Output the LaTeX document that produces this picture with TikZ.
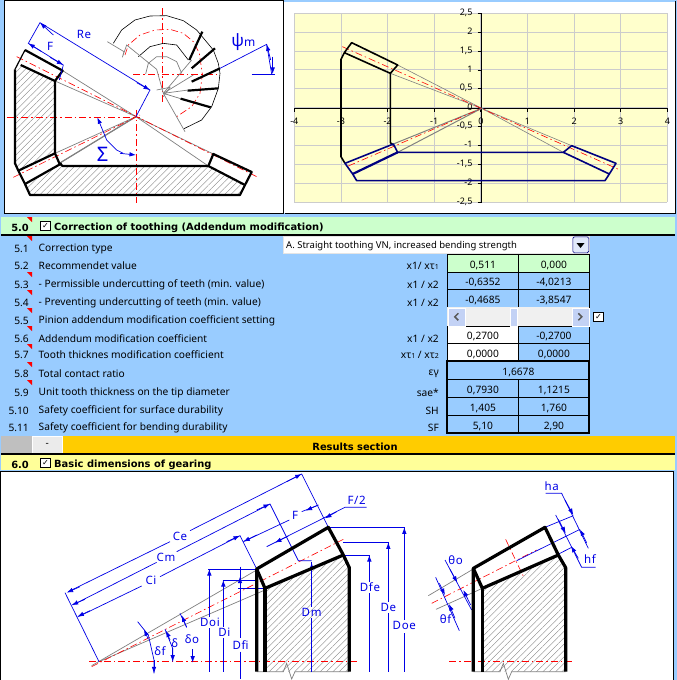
\documentclass[tikz,border=0pt]{standalone}
\usepackage{fontspec}
\setmainfont{Noto Sans}
\newfontfamily\symfont{DejaVu Sans}
\usetikzlibrary{arrows.meta,patterns.meta}
\definecolor{panelblue}{HTML}{99CCFF}
\definecolor{headgreen}{HTML}{CCFFCC}
\definecolor{headyellow}{HTML}{FFFF99}
\definecolor{chartyellow}{HTML}{FFFFCC}
\definecolor{barorange}{HTML}{FFCC00}
\definecolor{gridgray}{HTML}{CCCCCC}
\definecolor{dimblue}{HTML}{0000E6}
\definecolor{navyline}{HTML}{000080}
\definecolor{btnblue}{HTML}{C3D2F5}
\newcommand{\lowi}[1]{{\fontsize{7}{7}\selectfont #1}}
\tikzset{
  thickline/.style={black,line width=2.2pt,line join=round},
  heavyline/.style={black,line width=3.2pt,line join=round},
  thinline/.style={black,line width=.6pt},
  grayline/.style={gray,line width=.7pt},
  centerline/.style={red,line width=.6pt,dash pattern=on 7pt off 3pt on 1.5pt off 3pt},
  dimline/.style={dimblue,line width=.7pt},
  dimtip/.style={dimblue,line width=.7pt,-{Latex[length=6.5pt,width=4.5pt]}},
  hatched/.style={pattern={Lines[angle=45,distance=4.5pt,line width=.35pt]},pattern color=gray},
  dimlabel/.style={dimblue,inner sep=0pt,font=\fontsize{11.5}{11.5}\selectfont\addfontfeature{LetterSpace=6}},
  numlabel/.style={inner sep=0pt,anchor=east,yshift=-1.5pt,font=\fontsize{10.2}{10.2}\selectfont},
  rowlabel/.style={inner sep=0pt,anchor=west,yshift=-1.5pt,font=\fontsize{10.2}{10.2}\selectfont},
  symlabel/.style={inner sep=0pt,anchor=east,yshift=-1.5pt,font=\fontsize{10.2}{10.2}\selectfont},
  headlabel/.style={inner sep=0pt,anchor=west,font=\symfont\fontsize{9.9}{9.9}\selectfont\bfseries},
  cellbox/.style={draw=black,line width=.8pt,anchor=north west,inner sep=0pt,text height=9.5pt,text depth=0pt,font=\fontsize{10.2}{10.2}\selectfont},
  ticklabel/.style={inner sep=0pt,font=\fontsize{9}{9}\selectfont},
  checkbox/.style={draw=black,fill=white,line width=.8pt,minimum size=9.5pt,inner sep=0pt,font=\symfont\fontsize{8}{8}\selectfont\bfseries},
  scrollbtn/.style={fill=btnblue,draw=white,anchor=north west,minimum width=17pt,minimum height=18pt,inner sep=0pt,line width=.6pt},
  chevron/.style={draw=black!65,line width=1.5pt},
  redmark/.style={fill=red,draw=none}
}
\begin{document}
\begin{tikzpicture}[x=1pt,y=-1pt]
  \useasboundingbox (0,0) rectangle (677,680);
  \fill[panelblue] (0,0) rectangle (677,680);

  % left sketch
  \draw[black,line width=.8pt,fill=white] (4.5,.5) rectangle (283,213);
  \begin{scope}[scale=1/3]
    \fill[hatched] (62,195) -- (165,243) -- (165,460) -- (55,512) -- (45,490) -- (45,208) -- cycle;
    \fill[hatched] (90,585) -- (75,552) -- (185,490) -- (188,498) -- (625,498) -- (735,555) -- (720,585) -- cycle;
    \foreach \px/\py in {188/212,165/243,165/460,178/490,640/462,625/498}
      \draw[grayline] (\px,\py) -- (408,350);
    \draw[gray,line width=1.2pt] (178,490) -- (408,350);
    \draw[centerline] (50,170) -- (770,530);
    \draw[centerline] (40,532) -- (420,345);
    \draw[centerline] (20,352) -- (420,352);
    \draw[centerline] (408,330) -- (408,608);
    \draw[thickline,line width=1.2pt] (75,150) -- (45,208);
    \draw[thickline] (45,208) -- (45,490) -- (55,512) -- (75,552) -- (90,585) -- (720,585) -- (735,555) -- (755,516) -- (640,462) -- (625,498) -- (188,498) -- (178,490) -- (165,460) -- (165,243) -- (188,212) -- (75,150);
    \draw[thickline] (62,195) -- (165,243);
    \draw[thickline] (55,512) -- (165,460);
    \draw[thickline] (75,552) -- (185,490);
    \draw[thickline] (625,498) -- (735,555);
    % upper wheel
    \draw[centerline] (400,222) -- (660,222);
    \draw[centerline] (487,25) -- (487,315);
    \draw[thinline] (340,130) -- (365,90) -- (405,60) -- (450,48) -- (500,47) -- (550,62) -- (590,90) -- (615,120) -- (640,150) -- (655,190) -- (660,220) -- (655,265) -- (635,320) -- (605,360) -- (552,386);
    \draw[centerline] (375,165) -- (385,135) -- (420,105) -- (465,90) -- (510,88) -- (550,100) -- (580,125) -- (598,160) -- (607,222) -- (600,280) -- (575,320) -- (530,350);
    \draw[thinline] (415,170) -- (450,140) -- (490,130) -- (530,135) -- (565,180);
    \draw[grayline] (437,222) -- (445,190) -- (470,170) -- (500,170) -- (530,185) -- (545,220);
    \draw[grayline] (322,125) -- (372,155) -- (367,172) -- (380,135) -- (470,208) -- (490,280);
    \foreach \px/\py in {575/180,580/225,565/270,542/296,555/395}
      \draw[grayline] (490,280) -- (\px,\py);
    \draw[grayline] (470,270) -- (510,262) -- (490,290);
    \draw[thickline] (568,180) -- (607,95);
    \draw[thickline] (575,205) -- (645,145);
    \draw[thickline] (575,245) -- (660,205);
    \draw[thickline] (563,272) -- (655,265);
    \draw[thickline] (542,296) -- (632,322);
    % dimensions
    \draw[dimline] (408,350) -- (450,270) -- (120,68) -- (85,130) -- (190,195) -- (178,240);
    \draw[dimtip] (160,105) -- (120,68);
    \draw[dimtip] (410,248) -- (450,270);
    \draw[dimtip] (125,155) -- (85,130);
    \draw[dimtip] (150,172) -- (190,195);
    \draw[dimline] (660,205) -- (800,133) -- (815,222);
    \draw[dimline] (755,222) -- (825,222);
    \draw[dimtip] (812,180) -- (800,133);
    \draw[dimtip] (818,170) -- (818,222);
    \draw[dimline] (320,420) -- (350,450) -- (370,460);
    \draw[dimtip] (320,420) -- (292,352);
    \draw[dimtip] (360,460) -- (408,465);
    \node[dimlabel] (labRe) at (252,103) {Re};
    \node[dimlabel] (labF) at (150,138) {F};
    \node[dimlabel,font=\fontsize{20}{20}\selectfont] (labSigma) at (308,462) {Σ};
    \node[dimlabel,font=\fontsize{17}{17}\selectfont] (labPsi) at (730,127) {ψ{\fontsize{12}{12}\selectfont m}};
  \end{scope}

  % chart
  \fill[white] (284,2) rectangle (675,213);
  \draw[black,line width=.8pt] (285,213) -- (675,213) -- (675,1);
  \begin{scope}[shift={(285,0)},scale=1/3]
    \fill[chartyellow] (28,40) rectangle (1147,606);
    \foreach \k in {0,...,8}
      \draw[gridgray,line width=.9pt] ({28+\k*139.9},40) -- ({28+\k*139.9},606);
    \foreach \k in {0,...,10}
      \draw[gridgray,line width=.9pt] (28,{40+\k*56.6}) -- (1147,{40+\k*56.6});
    \draw[black,line width=.8pt] (28,325) -- (1147,325);
    \draw[black,line width=.8pt] (590,40) -- (590,606);
    \foreach \k in {0,...,8}
      \draw[black,line width=.8pt] ({28+\k*139.9},325) -- ({28+\k*139.9},337);
    \foreach \k in {0,...,10}
      \draw[black,line width=.8pt] (578,{40+\k*56.6}) -- (590,{40+\k*56.6});
    \foreach \lab [count=\k from 0] in {-4,-3,-2,-1,0,1,2,3,4}
      \node[ticklabel] (xtick\k) at ({28+\k*139.9},365) {\lab};
    \foreach \lab [count=\k from 0] in {{2,5},2,{1,5},1,{0,5},0,{-0,5},-1,{-1,5},-2,{-2,5}}
      \node[ticklabel,anchor=east] (ytick\k) at (563,{38+\k*56.6}) {\lab};
    \foreach \px/\py in {338/195,316/220,860/437,835/457}
      \draw[gray,line width=.6pt] (\px,\py) -- (590,325);
    \foreach \px/\py in {325/432,338/457}
      \draw[gray,line width=1pt] (\px,\py) -- (590,325);
    \draw[centerline] (172,140) -- (1005,510);
    \draw[centerline] (190,498) -- (590,325);
    \draw[black,line width=1.6pt,line join=round] (178,158) -- (316,220) -- (338,195) -- (200,128) -- (178,158) -- (168,178) -- (168,470) -- (180,490);
    \draw[black,line width=1.6pt] (316,220) -- (316,428) -- (325,435);
    \draw[navyline,line width=1.6pt,line join=round] (180,490) -- (325,432) -- (338,457) -- (835,457) -- (860,437) -- (993,490) -- (973,522) -- (960,542) -- (215,542) -- (203,522) -- cycle;
    \draw[navyline,line width=2.2pt] (203,522) -- (338,457);
    \draw[navyline,line width=1.6pt] (835,457) -- (973,522);
  \end{scope}

  % section 5
  \fill[headgreen] (1,217) rectangle (675,234);
  \draw[black,line width=1.6pt] (1,235) -- (675,235);
  \node[headlabel,anchor=east] (num50) at (29,228) {5.0};
  \node[checkbox] (chk50) at (45.5,226) {✓};
  \node[headlabel] (head50) at (54,228) {Correction of toothing (Addendum modification)};
  \foreach \nm/\yc/\num/\txt in {51/247/5.1/Correction type,52/264/5.2/Recommendet value,53/283/5.3/- Permissible undercutting of teeth (min. value),54/301/5.4/- Preventing undercutting of teeth (min. value),55/319/5.5/Pinion addendum modification coefficient setting,56/337/5.6/Addendum modification coefficient,57/353/5.7/Tooth thicknes modification coefficient,58/372/5.8/Total contact ratio,59/391/5.9/Unit tooth thickness on the tip diameter,510/409/5.10/Safety coefficient for surface durability,511/426/5.11/Safety coefficient for bending durability}{
    \node[numlabel] (num\nm) at (29,\yc) {\num};
    \node[rowlabel] (row\nm) at (38.5,\yc) {\txt};
  }
  \foreach \yc in {217,236,272,290,308,326,344,362,380,454}
    \fill[redmark] (27,\yc) -- (32,\yc) -- (32,\yc+5) -- cycle;
  \foreach \nm/\yc/\sym in {52/264/{x1/ xτ\lowi{1}},53/283/{x1 / x2},54/301/{x1 / x2},56/337/{x1 / x2},57/353/{xτ\lowi{1} / xτ\lowi{2}},58/372/εγ,59/391/sae*,510/409/SH,511/426/SF}
    \node[symlabel] (sym\nm) at (439,\yc) {\sym};

  % combo box
  \node[draw=white!80!gray,fill=white,anchor=north west,minimum width=306pt,minimum height=17pt,inner sep=0pt,line width=.6pt] (combo) at (283,236) {};
  \node[inner sep=0pt,anchor=west,font=\fontsize{9.5}{9.5}\selectfont] (comboText) at (286,246) {A. Straight toothing VN, increased bending strength};
  \node[draw=navyline,fill=btnblue!50!white,rounded corners=1.5pt,anchor=north west,minimum width=16pt,minimum height=16pt,inner sep=0pt,line width=.7pt] (comboBtn) at (572.5,236.5) {};
  \fill[black] (576.5,243) -- (584.5,243) -- (580.5,248) -- cycle;

  % table
  \foreach \nm/\yt/\hgt/\fa/\fb/\va/\vb in {52/254/18/headgreen/headgreen/{0,511}/{0,000},53/272/17/panelblue/panelblue/{-0,6352}/{-4,0213},54/289/18/panelblue/panelblue/{-0,4685}/{-3,8547},56/326/17/white/panelblue/{0,2700}/{-0,2700},57/343/18/white/panelblue/{0,0000}/{0,0000},59/379/18/panelblue/panelblue/{0,7930}/{1,1215},510/397/18/panelblue/panelblue/{1,405}/{1,760},511/415/18/panelblue/panelblue/{5,10}/{2,90}}{
    \node[cellbox,fill=\fa,minimum width=71pt,minimum height=\hgt pt] (cella\nm) at (447,\yt) {\va};
    \node[cellbox,fill=\fb,minimum width=71pt,minimum height=\hgt pt] (cellb\nm) at (518,\yt) {\vb};
  }
  \node[cellbox,fill=panelblue,minimum width=142pt,minimum height=18pt] (cell58) at (447,361) {1,6678};
  \draw[black,line width=1.4pt] (447,361) rectangle (589,433);

  % scroll bar
  \fill[black!6] (447,307) rectangle (589,326);
  \draw[black,line width=.8pt] (447,326) -- (589,326);
  \node[scrollbtn] (scrollL) at (447.5,307.5) {};
  \node[scrollbtn] (scrollR) at (571.5,307.5) {};
  \node[scrollbtn,minimum width=7pt] (scrollThumb) at (510,307.5) {};
  \draw[chevron] (scrollL.center) ++(2,-3.5) -- ++(-3.5,3.5) -- ++(3.5,3.5);
  \draw[chevron] (scrollR.center) ++(-2,-3.5) -- ++(3.5,3.5) -- ++(-3.5,3.5);
  \node[checkbox] (chk55) at (598.5,317) {✓};

  % results bar
  \fill[barorange] (62,436) rectangle (675,453);
  \fill[black!25] (1,436) rectangle (32,453);
  \node[draw=white,fill=black!8,anchor=north west,minimum width=30pt,minimum height=17pt,inner sep=0pt,line width=.6pt,font=\fontsize{10}{10}\selectfont] (btnMinus) at (32,436) {-};
  \node[headlabel,anchor=center] (headRes) at (355,447) {Results section};
  \draw[black,line width=1.6pt] (1,454) -- (675,454);

  % section 6
  \fill[headyellow] (1,455) rectangle (675,470);
  \node[headlabel,anchor=east] (num60) at (29,465) {6.0};
  \node[checkbox] (chk60) at (45.5,463) {✓};
  \node[headlabel] (head60) at (54,465) {Basic dimensions of gearing};
  \draw[black,line width=.8pt,fill=white] (.5,680.5) -- (.5,471) -- (673,471) -- (673,680.5);

  % bottom left sketch
  \begin{scope}[shift={(0,470)},scale=1/3]
    \fill[hatched] (795,355) -- (1030,255) -- (1048,293) -- (1048,605) -- (795,605) -- cycle;
    \draw[grayline] (770,605) -- (850,605) -- (860,580) -- (875,627) -- (885,605) -- (1048,605);
    \draw[grayline] (275,587) -- (770,300);
    \draw[grayline] (297,575) -- (795,360);
    \draw[centerline] (275,590) -- (1030,208);
    \draw[centerline] (268,575) -- (1075,575);
    % length dimensions
    \draw[dimline] (205,365) -- (510,215);
    \draw[dimline] (570,182) -- (905,12) -- (985,172);
    \draw[dimline] (195,368) -- (297,575);
    \draw[dimline] (218,405) -- (470,277);
    \draw[dimline] (530,245) -- (810,102) -- (895,272) -- (935,272);
    \draw[dimline] (235,440) -- (425,348);
    \draw[dimline] (480,320) -- (720,197) -- (770,297);
    \draw[dimline] (730,215) -- (868,150);
    \draw[dimline] (905,125) -- (955,105);
    \draw[dimline] (800,230) -- (1035,112) -- (1100,112);
    \draw[dimtip] (240,350) -- (200,368);
    \draw[dimtip] (860,35) -- (905,12);
    \draw[dimtip] (255,388) -- (215,405);
    \draw[dimtip] (770,120) -- (810,102);
    \draw[dimtip] (270,422) -- (232,440);
    \draw[dimtip] (680,215) -- (720,197);
    \draw[dimtip] (770,195) -- (730,215);
    \draw[dimtip] (955,105) -- (917,122);
    \draw[dimtip] (865,198) -- (825,218);
    \draw[dimtip] (1010,125) -- (975,145);
    % diameters
    \draw[dimline] (985,172) -- (1213,172) -- (1213,450);
    \draw[dimline] (1213,490) -- (1213,605);
    \draw[dimline] (1030,217) -- (1165,217) -- (1165,395);
    \draw[dimline] (1165,430) -- (1165,605);
    \draw[dimline] (1030,255) -- (1108,255) -- (1108,335);
    \draw[dimline] (1108,370) -- (1108,605);
    \draw[dimline] (935,275) -- (935,410);
    \draw[dimline] (935,445) -- (935,605);
    \draw[dimline] (625,297) -- (770,297);
    \draw[dimline] (628,300) -- (628,440);
    \draw[dimline] (628,475) -- (628,605);
    \draw[dimline] (668,330) -- (770,330);
    \draw[dimline] (670,335) -- (670,470);
    \draw[dimline] (670,505) -- (670,605);
    \draw[dimline] (715,355) -- (795,355);
    \draw[dimline] (720,290) -- (720,505);
    \draw[dimline] (720,545) -- (720,628);
    \foreach \px/\py in {1108/255,1165/217,935/278,628/297,670/330,720/320}
      \draw[dimtip] (\px,\py+40) -- (\px,\py);
    \draw[dimtip] (1213,212) -- (1213,172);
    % angle dimensions
    \draw[dimline] (413,455) -- (445,495) -- (462,570) -- (462,610);
    \draw[dimtip] (445,508) -- (432,478);
    \draw[dimtip] (462,570) -- (462,610);
    \draw[dimline] (495,478) -- (518,535) -- (518,575);
    \draw[dimtip] (510,510) -- (498,482);
    \draw[dimtip] (518,535) -- (518,575);
    \draw[dimline] (540,430) -- (560,472);
    \draw[dimtip] (560,472) -- (545,436);
    \draw[dimtip] (578,538) -- (578,578);
    \draw[heavyline] (770,605) -- (770,297) -- (985,172) -- (1030,255) -- (1048,293) -- (1048,605);
    \draw[heavyline] (770,297) -- (795,355) -- (1030,255);
    \draw[heavyline] (795,355) -- (795,605);
    \node[dimlabel] (labCe) at (540,199) {Ce};
    \node[dimlabel] (labCm) at (498,263) {Cm};
    \node[dimlabel] (labCi) at (453,332) {Ci};
    \node[dimlabel] (labFb) at (885,135) {F};
    \node[dimlabel] (labFh) at (1070,92) {F/2};
    \node[dimlabel] (labDoi) at (630,458) {Doi};
    \node[dimlabel] (labDi) at (673,487) {Di};
    \node[dimlabel] (labDfi) at (722,526) {Dfi};
    \node[dimlabel] (labDm) at (935,428) {Dm};
    \node[dimlabel] (labDfe) at (1110,352) {Dfe};
    \node[dimlabel] (labDe) at (1165,412) {De};
    \node[dimlabel] (labDoe) at (1213,467) {Doe};
    \node[dimlabel] (labDf) at (480,542) {δf};
    \node[dimlabel] (labDl) at (524,520) {δ};
    \node[dimlabel] (labDo) at (576,507) {δo};
  \end{scope}

  % bottom right sketch
  \begin{scope}[shift={(400,470)},scale=1/3]
    \fill[hatched] (247,355) -- (475,255) -- (497,293) -- (497,605) -- (247,605) -- cycle;
    \draw[grayline] (220,605) -- (300,605) -- (310,580) -- (325,628) -- (335,605) -- (497,605);
    \draw[grayline] (85,377) -- (220,297);
    \draw[grayline] (108,418) -- (247,355);
    \draw[centerline] (148,575) -- (525,575);
    \draw[centerline] (95,400) -- (410,240);
    \draw[centerline] (317,208) -- (373,325);
    \draw[dimline] (435,172) -- (520,137);
    \draw[dimline] (350,272) -- (540,178);
    \draw[dimline] (470,255) -- (515,232);
    \draw[dimline] (467,135) -- (530,262) -- (545,292) -- (587,292);
    \draw[dimline] (437,70) -- (485,70) -- (565,235);
    \draw[dimline] (135,270) -- (215,420);
    \draw[dimline] (107,322) -- (178,482);
    \draw[dimtip] (495,90) -- (520,135);
    \draw[dimtip] (560,218) -- (540,178);
    \draw[dimtip] (475,148) -- (497,190);
    \draw[dimtip] (535,265) -- (513,228);
    \draw[dimtip] (150,298) -- (172,338);
    \draw[dimtip] (212,405) -- (190,360);
    \draw[dimtip] (118,340) -- (135,375);
    \draw[dimtip] (165,445) -- (147,402);
    \draw[heavyline] (220,605) -- (220,295) -- (435,172) -- (475,255) -- (497,293) -- (497,605);
    \draw[heavyline] (220,295) -- (247,355) -- (475,255);
    \draw[heavyline] (247,355) -- (247,605);
    \node[dimlabel] (labha) at (455,50) {ha};
    \node[dimlabel] (labhf) at (570,268) {hf};
    \node[dimlabel] (labTa) at (167,271) {θo};
    \node[dimlabel] (labTf) at (137,447) {θf};
  \end{scope}
\end{tikzpicture}
\end{document}
